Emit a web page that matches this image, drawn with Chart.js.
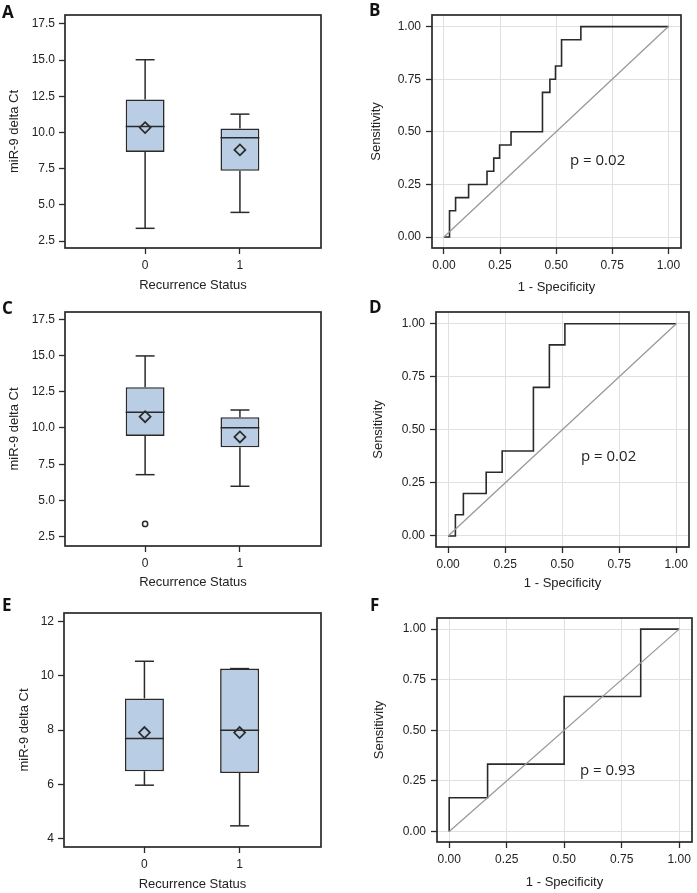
<!DOCTYPE html>
<html>
<head>
<meta charset="utf-8">
<script src="https://cdn.jsdelivr.net/npm/chart.js@4.4.0/dist/chart.umd.min.js"></script>
<style>
  body { margin: 0; background: #fff; }
  #wrap { position: relative; width: 697px; height: 893px; overflow: hidden; }
  canvas { position: absolute; }
  .tag { position: absolute; font: bold 17px "Open Sans", sans-serif; line-height: 1; color: #111; }
  .pval { position: absolute; font: 15px "Open Sans", sans-serif; line-height: 1; color: #222; }
</style>
</head>
<body>
<div id="wrap">
  <canvas id="cA" width="348" height="295" style="left:0;top:0"></canvas>
  <canvas id="cB" width="347" height="295" style="left:350px;top:0"></canvas>
  <canvas id="cC" width="348" height="298" style="left:0;top:295px"></canvas>
  <canvas id="cD" width="347" height="298" style="left:350px;top:295px"></canvas>
  <canvas id="cE" width="348" height="300" style="left:0;top:593px"></canvas>
  <canvas id="cF" width="347" height="300" style="left:350px;top:593px"></canvas>

  <div class="tag" style="left:2px;top:3px">A</div>
  <div class="tag" style="left:369px;top:1px">B</div>
  <div class="tag" style="left:2px;top:299px">C</div>
  <div class="tag" style="left:369px;top:298px">D</div>
  <div class="tag" style="left:2px;top:596px">E</div>
  <div class="tag" style="left:370px;top:596px">F</div>

  <div class="pval" style="left:570px;top:152px">p = 0.02</div>
  <div class="pval" style="left:581px;top:448px">p = 0.02</div>
  <div class="pval" style="left:580px;top:762px">p = 0.93</div>
</div>

<script>
// recurrence groups on the x axis
const groups = [0, 1];
const boxTicks = [2.5, 5, 7.5, 10, 12.5, 15, 17.5];
const boxTicksE = [4, 6, 8, 10, 12];
const rocTicks = [0, 0.25, 0.5, 0.75, 1];

// panel A - box stats per group
const aLow = [3.38, 4.48];
const aQ1 = [8.66, 7.35];
const aMedian = [10.41, 9.63];
const aMean = [10.34, 8.80];
const aQ3 = [12.28, 10.28];
const aHigh = [15.03, 11.27];

// panel C
const cLow = [6.78, 5.98];
const cQ1 = [9.45, 8.67];
const cMedian = [11.08, 10.02];
const cMean = [10.78, 9.38];
const cQ3 = [12.81, 10.74];
const cHigh = [14.97, 11.24];
const cOutGroup = [0];
const cOutValue = [3.38];

// panel E
const eLow = [5.97, 4.47];
const eQ1 = [6.48, 6.42];
const eMedian = [7.69, 8.0];
const eMean = [7.91, 7.91];
const eQ3 = [9.17, 10.27];
const eHigh = [10.54, 10.27];

// ROC curves (1 - specificity, sensitivity)
const fprB = [0, 0.025, 0.052, 0.11, 0.192, 0.222, 0.248, 0.299, 0.439, 0.472, 0.497, 0.524, 0.61, 1];
const tprB = [0, 0.125, 0.1875, 0.25, 0.3125, 0.375, 0.4375, 0.5, 0.6875, 0.75, 0.8125, 0.9375, 1, 1];
const fprD = [0, 0.032, 0.067, 0.167, 0.237, 0.374, 0.444, 0.512, 1];
const tprD = [0, 0.1, 0.2, 0.3, 0.4, 0.7, 0.9, 1, 1];
const fprF = [0, 0, 0.167, 0.5, 0.833, 1];
const tprF = [0, 0.167, 0.333, 0.667, 1, 1];
const refX = [0, 1];
const refY = [0, 1];

const ink = '#2a2a2a';
const boxFill = '#b9cde5';
const tickFont = {family: 'Liberation Sans', size: 12};
const titleFont = {family: 'Liberation Sans', size: 13};
const boxHalf = 0.205;
const capHalf = 0.1;

const framePlugin = {
  id: 'frame',
  afterDraw(chart) {
    const {ctx, chartArea: a} = chart;
    ctx.save();
    ctx.strokeStyle = ink;
    ctx.lineWidth = 1.7;
    ctx.strokeRect(a.left, a.top, a.right - a.left, a.bottom - a.top);
    ctx.restore();
  }
};

function seg(list, pts) {
  list.push({
    type: 'line',
    data: pts.map(p => ({x: p[0], y: p[1]})),
    borderColor: ink, borderWidth: 1.5, pointRadius: 0, fill: false
  });
}

function boxPanel(id, s, lay) {
  const datasets = [{
    type: 'bar',
    data: groups.map((g, i) => ({x: g, y: [s.q1[i], s.q3[i]]})),
    backgroundColor: boxFill, borderColor: ink, borderWidth: 1.6, borderSkipped: false,
    barPercentage: 0.41, categoryPercentage: 1, order: 1
  }];
  groups.forEach((g, i) => {
    seg(datasets, [[g, s.q3[i]], [g, s.hi[i]]]);
    seg(datasets, [[g, s.q1[i]], [g, s.lo[i]]]);
    seg(datasets, [[g - capHalf, s.hi[i]], [g + capHalf, s.hi[i]]]);
    seg(datasets, [[g - capHalf, s.lo[i]], [g + capHalf, s.lo[i]]]);
    seg(datasets, [[g - boxHalf, s.med[i]], [g + boxHalf, s.med[i]]]);
  });
  datasets.push({
    type: 'line', showLine: false,
    data: groups.map((g, i) => ({x: g, y: s.mean[i]})),
    pointStyle: 'rectRot', pointRadius: 5.5, pointBorderWidth: 1.7,
    pointBorderColor: ink, pointBackgroundColor: 'rgba(0,0,0,0)'
  });
  if (s.outG) {
    datasets.push({
      type: 'line', showLine: false,
      data: s.outG.map((g, i) => ({x: g, y: s.outV[i]})),
      pointStyle: 'circle', pointRadius: 2.6, pointBorderWidth: 1.5,
      pointBorderColor: ink, pointBackgroundColor: '#fff'
    });
  }
  new Chart(document.getElementById(id), {
    type: 'bar',
    data: {datasets},
    plugins: [framePlugin],
    options: {
      responsive: false, animation: false, devicePixelRatio: 1,
      layout: {padding: {left: 0, top: lay.top, right: lay.right, bottom: 0}},
      plugins: {legend: {display: false}, tooltip: {enabled: false}},
      scales: {
        x: {
          type: 'linear', min: -0.845, max: 1.855, offset: false,
          afterBuildTicks: sc => { sc.ticks = groups.map(v => ({value: v})); },
          afterFit: sc => { sc.height = lay.xh; },
          ticks: {font: tickFont, color: '#222', padding: 4, maxRotation: 0, autoSkip: false, callback: v => String(v)},
          grid: {drawOnChartArea: false, tickLength: 6, tickColor: ink, tickWidth: 1.3, offset: false},
          border: {display: false},
          title: {display: true, text: 'Recurrence Status', font: titleFont, color: '#222', padding: {top: 0, bottom: lay.xtb}}
        },
        y: {
          type: 'linear', min: lay.ymin, max: lay.ymax, beginAtZero: false,
          afterBuildTicks: sc => { sc.ticks = lay.ticks.map(v => ({value: v})); },
          afterFit: sc => { sc.width = lay.yw; },
          ticks: {font: tickFont, color: '#222', padding: 4, callback: v => lay.dec ? v.toFixed(1) : String(v)},
          grid: {drawOnChartArea: false, tickLength: 6, tickColor: ink, tickWidth: 1.3},
          border: {display: false},
          title: {display: true, text: 'miR-9 delta Ct', font: titleFont, color: '#222', padding: {top: lay.ytp, bottom: 0}}
        }
      }
    }
  });
}

function rocPanel(id, fpr, tpr, lay) {
  new Chart(document.getElementById(id), {
    type: 'line',
    data: {
      datasets: [
        {data: refX.map((v, i) => ({x: v, y: refY[i]})), borderColor: '#999', borderWidth: 1.3, pointRadius: 0},
        {data: fpr.map((v, i) => ({x: v, y: tpr[i]})), borderColor: ink, borderWidth: 1.6, pointRadius: 0, stepped: 'before'}
      ]
    },
    plugins: [framePlugin],
    options: {
      responsive: false, animation: false, devicePixelRatio: 1,
      layout: {padding: {left: 0, top: lay.top, right: lay.right, bottom: 0}},
      plugins: {legend: {display: false}, tooltip: {enabled: false}},
      scales: {
        x: {
          type: 'linear', min: -0.053, max: 1.056,
          afterBuildTicks: sc => { sc.ticks = rocTicks.map(v => ({value: v})); },
          afterFit: sc => { sc.height = lay.xh; },
          ticks: {font: tickFont, color: '#222', padding: 4, maxRotation: 0, autoSkip: false, callback: v => v.toFixed(2)},
          grid: {color: '#e0e0e0', tickLength: 6, tickColor: ink, tickWidth: 1.3},
          border: {display: false},
          title: {display: true, text: '1 - Specificity', font: titleFont, color: '#222', padding: {top: 0, bottom: lay.xtb}}
        },
        y: {
          type: 'linear', min: -0.052, max: 1.055,
          afterBuildTicks: sc => { sc.ticks = rocTicks.map(v => ({value: v})); },
          afterFit: sc => { sc.width = lay.yw; },
          ticks: {font: tickFont, color: '#222', padding: 5, callback: v => v.toFixed(2)},
          grid: {color: '#e0e0e0', tickLength: 6, tickColor: ink, tickWidth: 1.3},
          border: {display: false},
          title: {display: true, text: 'Sensitivity', font: titleFont, color: '#222', padding: {top: lay.ytp, bottom: 0}}
        }
      }
    }
  });
}

boxPanel('cA', {lo: aLow, q1: aQ1, med: aMedian, mean: aMean, q3: aQ3, hi: aHigh},
  {top: 15, right: 27, xh: 47, yw: 65, xtb: 2, ytp: 7, ymin: 2.02, ymax: 18.12, ticks: boxTicks, dec: true});
boxPanel('cC', {lo: cLow, q1: cQ1, med: cMedian, mean: cMean, q3: cQ3, hi: cHigh, outG: cOutGroup, outV: cOutValue},
  {top: 17, right: 27, xh: 47, yw: 65, xtb: 3, ytp: 7, ymin: 1.86, ymax: 18.0, ticks: boxTicks, dec: true});
boxPanel('cE', {lo: eLow, q1: eQ1, med: eMedian, mean: eMean, q3: eQ3, hi: eHigh},
  {top: 20, right: 27, xh: 46, yw: 64, xtb: 1, ytp: 17, ymin: 3.69, ymax: 12.32, ticks: boxTicksE, dec: false});

rocPanel('cB', fprB, tprB, {top: 15, right: 16, xh: 47, yw: 82, xtb: 0, ytp: 19});
rocPanel('cD', fprD, tprD, {top: 17, right: 8, xh: 46, yw: 86, xtb: 2, ytp: 21});
rocPanel('cF', fprF, tprF, {top: 25, right: 5, xh: 51, yw: 87, xtb: 3, ytp: 22});
</script>
</body>
</html>
